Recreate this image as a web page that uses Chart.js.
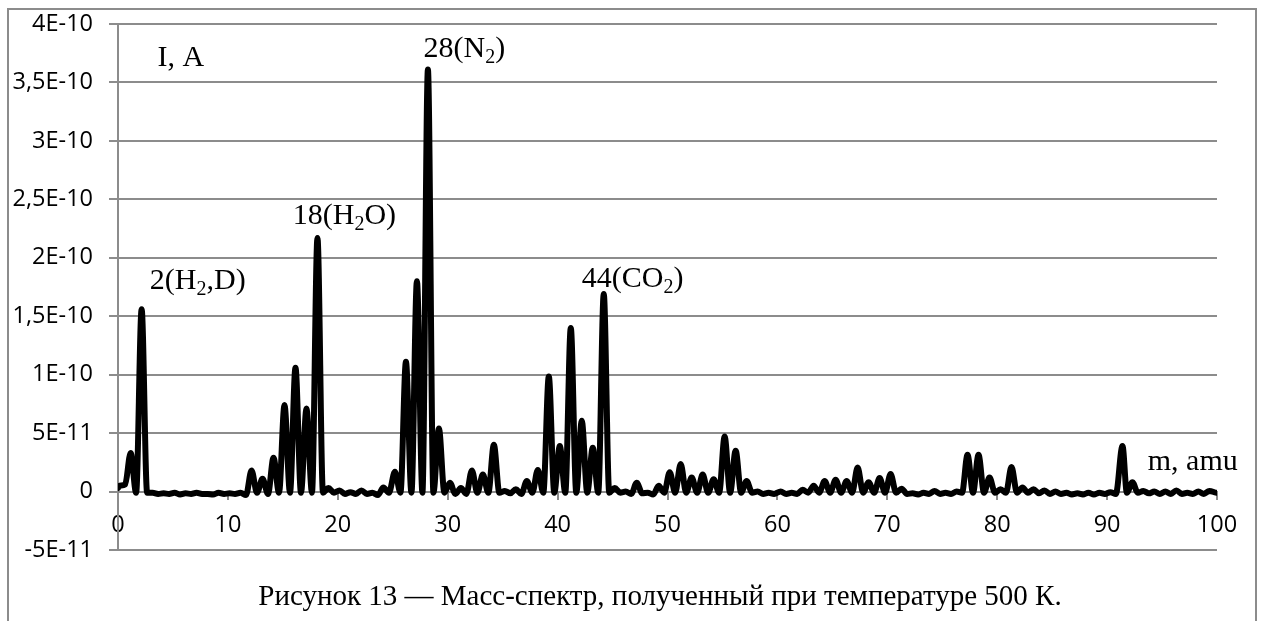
<!DOCTYPE html>
<html>
<head>
<meta charset="utf-8">
<script src="https://cdn.jsdelivr.net/npm/chart.js@4.4.1/dist/chart.umd.min.js"></script>
<style>
  body { margin: 0; background: #fff; }
  #wrap { position: relative; width: 1264px; height: 621px; overflow: hidden; }
  #frame { position: absolute; left: 7px; top: 8px; width: 1246px; height: 700px; border: 2px solid #8c8c8c; }
  #chartBox { position: absolute; left: 0; top: 0; width: 1264px; height: 621px; }
  #caption { position: absolute; left: 0; width: 1320px; top: 581px; text-align: center;
    font-family: "Liberation Serif", "Times New Roman", serif; font-size: 29px; line-height: 1; color: #000; }
</style>
</head>
<body>
<div id="wrap">
  <div id="frame"></div>
  <div id="chartBox"><canvas id="myChart1"></canvas></div>
  <div id="caption">Рисунок 13 — Масс-спектр, полученный при температуре 500 К.</div>
</div>
<script>
// mass scale, amu (peak tops and the dips between them)
const mass = [
  0, 0.15, 0.65, 1.15, 1.65, 2.15, 2.65, 3.15, 3.65, 4.15, 4.65, 5.15, 5.65, 6.15, 6.65, 7.15, 7.65, 8.15, 8.65, 9.15, 9.65,
  10.15, 10.65, 11.15, 11.65, 12.15, 12.65, 13.15, 13.65, 14.15, 14.65, 15.15, 15.65, 16.15, 16.65, 17.15, 17.65, 18.15, 18.65, 19.15, 19.65,
  20.15, 20.65, 21.15, 21.65, 22.15, 22.65, 23.15, 23.65, 24.15, 24.65, 25.2, 25.7, 26.2, 26.7, 27.2, 27.7, 28.2, 28.7, 29.2, 29.7,
  30.2, 30.7, 31.2, 31.7, 32.2, 32.7, 33.2, 33.7, 34.2, 34.7, 35.2, 35.7, 36.2, 36.7, 37.2, 37.7, 38.2, 38.7, 39.2, 39.7,
  40.2, 40.7, 41.2, 41.7, 42.2, 42.7, 43.2, 43.7, 44.2, 44.7, 45.2, 45.7, 46.2, 46.7, 47.2, 47.7, 48.2, 48.7, 49.2, 49.7,
  50.2, 50.7, 51.2, 51.7, 52.2, 52.7, 53.2, 53.7, 54.2, 54.7, 55.2, 55.7, 56.2, 56.7, 57.2, 57.7, 58.2, 58.7, 59.2, 59.7,
  60.3, 60.8, 61.3, 61.8, 62.3, 62.8, 63.3, 63.8, 64.3, 64.8, 65.3, 65.8, 66.3, 66.8, 67.3, 67.8, 68.3, 68.8, 69.3, 69.8,
  70.3, 70.8, 71.3, 71.8, 72.3, 72.8, 73.3, 73.8, 74.3, 74.8, 75.3, 75.8, 76.3, 76.8, 77.3, 77.8, 78.3, 78.8, 79.3, 79.8,
  80.3, 80.8, 81.3, 81.8, 82.3, 82.8, 83.3, 83.8, 84.3, 84.8, 85.3, 85.8, 86.3, 86.8, 87.3, 87.8, 88.3, 88.8, 89.3, 89.8,
  90.3, 90.8, 91.4, 91.8, 92.3, 92.8, 93.3, 93.8, 94.3, 94.8, 95.3, 95.8, 96.3, 96.8, 97.3, 97.8, 98.3, 98.8, 99.3, 99.9
];
// ion current, units of 1E-11 A
const current = [
  0.3, 0.5, 0.6, 3.3, -0.1, 15.6, -0.1, -0.1, -0.2, -0.15, -0.2, -0.1, -0.25, -0.15, -0.2, -0.1, -0.2, -0.2, -0.25, -0.1, -0.2,
  -0.15, -0.2, -0.1, -0.3, 1.8, -0.1, 1.1, -0.2, 2.9, -0.1, 7.4, -0.1, 10.6, -0.1, 7.1, -0.1, 21.7, -0.1, 0.3, -0.1,
  0.1, -0.2, -0.05, -0.2, 0.1, -0.2, -0.1, -0.3, 0.35, -0.1, 1.7, -0.1, 11.1, -0.1, 18.0, -0.1, 36.1, -0.1, 5.4, -0.1,
  0.75, -0.2, 0.3, -0.2, 1.8, -0.1, 1.45, -0.1, 4.0, -0.1, 0.05, -0.15, 0.2, -0.2, 0.9, -0.1, 1.85, -0.1, 9.85, -0.1,
  3.9, -0.1, 14.0, -0.1, 6.05, -0.1, 3.75, -0.1, 16.9, -0.1, 0.3, -0.1, 0.0, -0.2, 0.75, -0.15, -0.1, -0.25, 0.5, -0.1,
  1.65, -0.1, 2.35, -0.1, 1.2, -0.1, 1.45, -0.1, 1.05, -0.1, 4.7, -0.1, 3.5, -0.1, 0.9, -0.1, 0.0, -0.2, -0.1, -0.2,
  0.0, -0.2, -0.1, -0.2, 0.15, -0.1, 0.5, -0.1, 0.9, -0.1, 1.0, -0.1, 0.9, -0.1, 2.05, -0.1, 0.8, -0.1, 1.15, -0.1,
  1.5, -0.1, 0.25, -0.2, -0.15, -0.25, -0.1, -0.2, 0.05, -0.2, -0.1, -0.2, 0.0, -0.1, 3.15, -0.1, 3.15, -0.1, 1.2, -0.1,
  0.2, -0.1, 2.1, -0.1, 0.35, -0.1, 0.2, -0.15, 0.1, -0.2, 0.0, -0.2, -0.1, -0.25, -0.15, -0.25, -0.1, -0.25, -0.1, -0.2,
  -0.05, -0.2, 3.9, -0.1, 0.8, -0.1, 0.05, -0.15, 0.0, -0.2, 0.0, -0.2, 0.1, -0.2, -0.1, -0.2, 0.0, -0.2, 0.05, -0.1
];

const massTicks = [0, 10, 20, 30, 40, 50, 60, 70, 80, 90, 100];
const currentTicks = [-5e-11, 0, 5e-11, 1e-10, 1.5e-10, 2e-10, 2.5e-10, 3e-10, 3.5e-10, 4e-10];
const currentTickLabels = ["-5E-11", "0", "5E-11", "1E-10", "1,5E-10", "2E-10", "2,5E-10", "3E-10", "3,5E-10", "4E-10"];

// text on the plot; "_x" = subscript x
const noteTexts = ["I, A", "2(H_2,D)", "18(H_2O)", "28(N_2)", "44(CO_2)", "m, amu"];
const noteMass = [3.6, 2.9, 15.9, 27.8, 42.2, 93.7];
const noteCurrent = [3.64e-10, 1.735e-10, 2.29e-10, 3.72e-10, 1.75e-10, 1.85e-11];

const gridColor = "#8c8c8c";
const serif = '"Liberation Serif", "Times New Roman", serif';

const notesPlugin = {
  id: "notes",
  afterDraw(chart) {
    const ctx = chart.ctx;
    const sx = chart.scales.x, sy = chart.scales.y;
    const size = 30, subSize = 20;
    ctx.save();
    ctx.fillStyle = "#000";
    ctx.textBaseline = "alphabetic";
    ctx.textAlign = "left";
    noteTexts.forEach((txt, k) => {
      let x = sx.getPixelForValue(noteMass[k]);
      const y = sy.getPixelForValue(noteCurrent[k]);
      const parts = txt.split("_");
      parts.forEach((p, j) => {
        if (j > 0) {
          ctx.font = subSize + "px " + serif;
          ctx.fillText(p[0], x, y + 6);
          x += ctx.measureText(p[0]).width;
          p = p.slice(1);
        }
        ctx.font = size + "px " + serif;
        ctx.fillText(p, x, y);
        x += ctx.measureText(p).width;
      });
    });
    ctx.restore();
  }
};

function showChart(){
  const points = mass.map((m, i) => ({ x: m, y: current[i] * 1e-11 }));
  const ctx = document.getElementById("myChart1");
  const tickFont = { family: '"Open Sans", sans-serif', size: 23.5 };

  new Chart(ctx, {
    type: "line",
    data: {
      datasets: [{
        label: "I",
        data: points,
        borderColor: "#000",
        borderWidth: 6,
        pointRadius: 0,
        cubicInterpolationMode: "monotone",
        borderJoinStyle: "round",
        borderCapStyle: "round",
      }],
    },
    options: {
      responsive: true,
      maintainAspectRatio: false,
      animation: false,
      layout: { padding: { left: 0, top: 24, right: 47, bottom: 71 } },
      plugins: {
        legend: { display: false },
        tooltip: { enabled: false },
      },
      scales: {
        x: {
          type: "linear",
          min: 0,
          max: 100,
          position: { y: 0 },
          afterBuildTicks: (s) => { s.ticks = massTicks.map(v => ({ value: v })); },
          ticks: { font: tickFont, color: "#000", padding: 13, maxRotation: 0, autoSkip: false },
          grid: { drawOnChartArea: false, tickLength: 7, color: gridColor, lineWidth: 2 },
          border: { color: gridColor, width: 2 },
        },
        y: {
          type: "linear",
          min: -5e-11,
          max: 4e-10,
          afterBuildTicks: (s) => { s.ticks = currentTicks.map(v => ({ value: v })); },
          afterFit: (s) => { s.width = 118; s.paddingTop = 0; s.paddingBottom = 0; },
          ticks: { font: tickFont, color: "#000", padding: 16, callback: (v, i) => currentTickLabels[i] },
          grid: { color: gridColor, lineWidth: 2, tickLength: 9 },
          border: { color: gridColor, width: 2 },
        },
      },
    },
    plugins: [notesPlugin],
  });
}

showChart();
</script>
</body>
</html>
